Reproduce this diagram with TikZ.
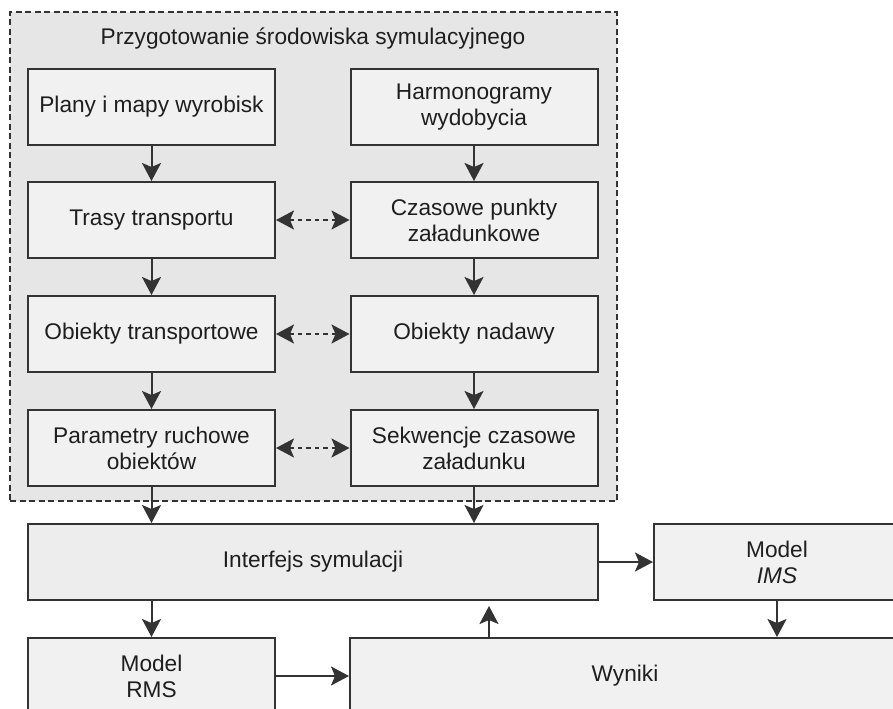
\documentclass[tikz,border=0pt]{standalone}
\usepackage{fontspec}
\setmainfont{Liberation Sans}
\usepackage{tikz}
\usetikzlibrary{graphs}
\usetikzlibrary {arrows.meta}

\definecolor{linegray}{HTML}{333333}
\definecolor{textgray}{HTML}{1E1E1E}
\definecolor{boxfill}{HTML}{F1F1F1}
\definecolor{midfill}{HTML}{EDEDED}
\definecolor{groupfill}{HTML}{E6E6E6}

\begin{document}
\begin{tikzpicture}[
        font=\fontsize{12.9}{14.8}\selectfont,
        >={Stealth[length=0.36cm,width=0.38cm,inset=0.08cm]},
        line width=0.04cm,
        every edge/.append style={draw=linegray},
        box/.style={draw=linegray, fill=boxfill, text=textgray, align=center,
            inner sep=0pt, minimum width=4.94cm, minimum height=1.52cm},
        group/.style={draw=linegray, fill=groupfill, dash pattern=on 0.12cm off 0.07cm,
            minimum width=12.14cm, minimum height=9.78cm},
        link/.style={dash pattern=on 0.09cm off 0.08cm}]
        \clip (0,0) rectangle (17.86,-14.16);
        \useasboundingbox (0,0) rectangle (17.86,-14.16);

        \node[group] (srodowisko) at (6.27,-5.13) {};
        \node[text=textgray] (tytul) at (6.26,-0.76) {Przygotowanie środowiska symulacyjnego};

        \node[box] (plany) at (3.03,-2.14) {Plany i mapy wyrobisk};
        \node[box] (trasy) at (3.03,-4.40) {Trasy transportu};
        \node[box] (transportowe) at (3.03,-6.68) {Obiekty transportowe};
        \node[box] (parametry) at (3.03,-8.96) {Parametry ruchowe\\obiektów};

        \node[box] (harmonogramy) at (9.48,-2.14) {Harmonogramy\\wydobycia};
        \node[box] (punkty) at (9.48,-4.40) {Czasowe punkty\\załadunkowe};
        \node[box] (nadawy) at (9.48,-6.68) {Obiekty nadawy};
        \node[box] (sekwencje) at (9.48,-8.96) {Sekwencje czasowe\\załadunku};

        \node[box, fill=midfill, minimum width=11.4cm] (interfejs) at (6.26,-11.24) {Interfejs symulacji};
        \node[box, minimum width=4.92cm] (ims) at (15.54,-11.24) {Model\\\textit{IMS}};
        \node[box] (rms) at (3.03,-13.52) {Model\\RMS};
        \node[box, minimum width=11.0cm] (wyniki) at (12.5,-13.52) {Wyniki};
        \coordinate (zwrot) at (9.78,-12.76);

        \graph {(plany) -> (trasy) -> (transportowe) -> (parametry);
            (harmonogramy) -> (punkty) -> (nadawy) -> (sekwencje);
            (trasy) <->[link] (punkty);
            (transportowe) <->[link] (nadawy);
            (parametry) <->[link] (sekwencje);
            (interfejs) -> (ims);
            (rms) -> (wyniki);};

        \draw[->, linegray] (parametry.south) -- (parametry.south |- interfejs.north);
        \draw[->, linegray] (sekwencje.south) -- (sekwencje.south |- interfejs.north);
        \draw[->, linegray] (interfejs.south -| rms.north) -- (rms.north);
        \draw[->, linegray] (ims.south) -- (ims.south |- wyniki.north);
        \draw[->, linegray, shorten >=0.1cm] (zwrot) -- (zwrot |- interfejs.south);
    \end{tikzpicture}
\end{document}
